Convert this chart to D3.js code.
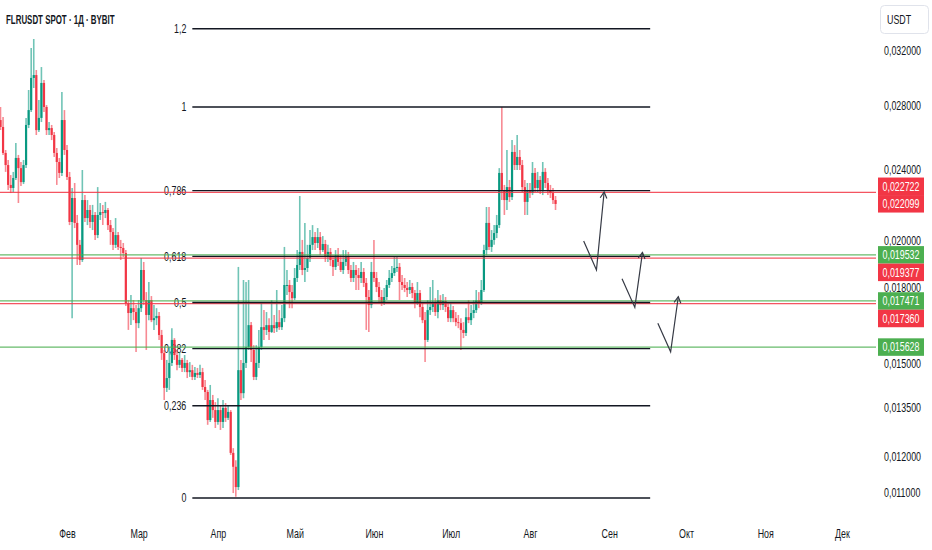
<!DOCTYPE html>
<meta charset="utf-8" />
<title>FLRUSDT SPOT 1D</title>
<script src="https://d3js.org/d3.v7.min.js"></script>
<style>
  body { margin: 0; background: #fff; }
  svg text { font-family: "Liberation Sans", Arial, sans-serif; fill: #131722; }
</style>
<body>
<svg id="chart" width="932" height="550"></svg>
<script>
  // ---- data (daily candles, 2025-01-06 .. 2025-08-11) ----
  var firstOpen = 0.02706;
  var closes = [
    0.02661,0.02499,0.02427,0.02313,0.02296,0.02352,0.02469,0.02409,0.02329,0.02427,
    0.02674,0.02772,0.02996,0.03017,0.02641,0.02720,0.02960,0.02793,0.02641,0.02654,
    0.02610,0.02499,0.02445,0.02381,0.02706,0.02517,0.02358,0.02115,0.02241,0.02110,
    0.02001,0.01929,0.02230,0.02135,0.02177,0.02115,0.02151,0.02049,0.02151,0.02166,
    0.02161,0.02177,0.02099,0.02064,0.02001,0.02049,0.01991,0.01986,0.01962,0.01738,
    0.01697,0.01717,0.01701,0.01656,0.01717,0.01883,0.01751,0.01689,0.01751,0.01668,
    0.01676,0.01685,0.01609,0.01540,0.01416,0.01450,0.01504,0.01590,0.01533,0.01497,
    0.01515,0.01486,0.01504,0.01471,0.01478,0.01454,0.01468,0.01461,0.01471,0.01419,
    0.01402,0.01310,0.01375,0.01342,0.01304,0.01342,0.01304,0.01349,0.01317,0.01336,
    0.01210,0.01170,0.01114,0.01478,0.01398,0.01504,0.01563,0.01648,0.01552,0.01454,
    0.01504,0.01563,0.01640,0.01629,0.01648,0.01621,0.01648,0.01636,0.01660,0.01640,
    0.01676,0.01816,0.01816,0.01785,0.01759,0.01847,0.01906,0.01967,0.01883,0.01892,
    0.01939,0.02001,0.02039,0.02010,0.02039,0.01976,0.02005,0.01943,0.01967,0.01929,
    0.01897,0.01952,0.01920,0.01883,0.01920,0.01948,0.01883,0.01847,0.01883,0.01860,
    0.01847,0.01874,0.01825,0.01764,0.01730,0.01874,0.01847,0.01807,0.01764,0.01742,
    0.01764,0.01816,0.01847,0.01869,0.01892,0.01897,0.01829,0.01816,0.01803,0.01794,
    0.01807,0.01781,0.01738,0.01781,0.01722,0.01668,0.01590,0.01709,0.01722,0.01738,
    0.01701,0.01751,0.01730,0.01747,0.01722,0.01676,0.01709,0.01676,0.01660,0.01656,
    0.01629,0.01617,0.01680,0.01668,0.01697,0.01709,0.01751,0.01738,0.01794,0.01976,
    0.02110,0.01991,0.02025,0.02059,0.02099,0.02381,0.02285,0.02230,0.02301,0.02246,
    0.02505,0.02427,0.02475,0.02427,0.02301,0.02220,0.02285,0.02268,0.02381,0.02296,
    0.02341,0.02285,0.02387,0.02324,0.02285,0.02268,0.02230,0.02209
  ];
  var highs = [
    0.02793,0.02726,0.02517,0.02457,0.02369,0.02387,0.02560,0.02487,0.02445,0.02457,
    0.02720,0.02910,0.03221,0.03292,0.03054,0.02840,0.03076,0.02981,0.02806,0.02693,
    0.02674,0.02629,0.02529,0.02469,0.02896,0.02772,0.02547,0.02387,0.02296,0.02324,
    0.02151,0.02025,0.02398,0.02257,0.02230,0.02204,0.02204,0.02166,0.02301,0.02214,
    0.02204,0.02220,0.02188,0.02125,0.02084,0.02135,0.02064,0.02025,0.02010,0.01976,
    0.01751,0.01772,0.01751,0.01730,0.01751,0.01939,0.01920,0.01785,0.01829,0.01768,
    0.01730,0.01717,0.01701,0.01629,0.01552,0.01515,0.01563,0.01636,0.01597,0.01552,
    0.01544,0.01522,0.01533,0.01515,0.01507,0.01497,0.01489,0.01486,0.01497,0.01486,
    0.01443,0.01409,0.01426,0.01392,0.01368,0.01381,0.01358,0.01375,0.01365,0.01358,
    0.01342,0.01224,0.01189,0.01897,0.01515,0.01838,0.01829,0.01838,0.01660,0.01570,
    0.01570,0.01629,0.01738,0.01709,0.01701,0.01676,0.01751,0.01689,0.01794,0.01709,
    0.01730,0.01991,0.01883,0.01838,0.01816,0.01892,0.01976,0.02252,0.02025,0.02110,
    0.02001,0.02074,0.02099,0.02064,0.02084,0.02064,0.02044,0.02025,0.02001,0.01986,
    0.01952,0.01976,0.01986,0.01952,0.01976,0.01976,0.01967,0.01906,0.01920,0.01906,
    0.01892,0.01920,0.01892,0.01847,0.01794,0.01920,0.02025,0.01874,0.01829,0.01794,
    0.01803,0.01838,0.01883,0.01901,0.01943,0.01948,0.01915,0.01860,0.01847,0.01829,
    0.01838,0.01825,0.01794,0.01829,0.01794,0.01738,0.01701,0.01751,0.01807,0.01838,
    0.01759,0.01794,0.01772,0.01777,0.01764,0.01738,0.01742,0.01726,0.01701,0.01689,
    0.01676,0.01660,0.01717,0.01751,0.01730,0.01751,0.01794,0.01785,0.01838,0.02001,
    0.02193,0.02193,0.02074,0.02099,0.02151,0.02409,0.02793,0.02313,0.02517,0.02341,
    0.02578,0.02547,0.02610,0.02517,0.02457,0.02341,0.02324,0.02324,0.02445,0.02409,
    0.02387,0.02364,0.02445,0.02409,0.02352,0.02313,0.02296,0.02252
  ];
  var lows = [
    0.02641,0.02487,0.02387,0.02285,0.02268,0.02274,0.02341,0.02214,0.02307,0.02318,
    0.02409,0.02654,0.02759,0.02924,0.02610,0.02629,0.02693,0.02759,0.02610,0.02610,
    0.02578,0.02475,0.02313,0.02352,0.02364,0.02487,0.02341,0.02099,0.01676,0.02084,
    0.01906,0.01906,0.01920,0.02115,0.02099,0.02084,0.02074,0.02025,0.02034,0.02125,
    0.02099,0.02135,0.02074,0.02001,0.01976,0.01986,0.01976,0.01929,0.01943,0.01726,
    0.01629,0.01648,0.01668,0.01544,0.01636,0.01701,0.01730,0.01552,0.01668,0.01660,
    0.01629,0.01648,0.01590,0.01515,0.01375,0.01402,0.01409,0.01493,0.01515,0.01478,
    0.01486,0.01471,0.01471,0.01450,0.01454,0.01443,0.01443,0.01450,0.01450,0.01409,
    0.01375,0.01295,0.01304,0.01317,0.01285,0.01295,0.01279,0.01285,0.01304,0.01310,
    0.01204,0.01098,0.01088,0.01106,0.01375,0.01381,0.01486,0.01552,0.01507,0.01443,
    0.01443,0.01486,0.01552,0.01590,0.01609,0.01590,0.01617,0.01617,0.01621,0.01629,
    0.01629,0.01660,0.01772,0.01717,0.01717,0.01751,0.01829,0.01883,0.01860,0.01829,
    0.01874,0.01920,0.01976,0.01976,0.01986,0.01952,0.01967,0.01920,0.01920,0.01901,
    0.01856,0.01883,0.01901,0.01874,0.01865,0.01901,0.01865,0.01829,0.01829,0.01794,
    0.01794,0.01825,0.01807,0.01629,0.01621,0.01717,0.01829,0.01785,0.01742,0.01726,
    0.01730,0.01751,0.01803,0.01829,0.01856,0.01874,0.01751,0.01794,0.01785,0.01764,
    0.01777,0.01759,0.01717,0.01730,0.01680,0.01656,0.01507,0.01582,0.01689,0.01701,
    0.01685,0.01676,0.01709,0.01709,0.01701,0.01660,0.01660,0.01660,0.01644,0.01636,
    0.01552,0.01597,0.01605,0.01656,0.01648,0.01676,0.01697,0.01717,0.01730,0.01785,
    0.01952,0.01976,0.01967,0.02001,0.02034,0.02084,0.02230,0.02151,0.02177,0.02220,
    0.02230,0.02398,0.02398,0.02398,0.02274,0.02151,0.02151,0.02241,0.02257,0.02274,
    0.02274,0.02263,0.02257,0.02296,0.02257,0.02241,0.02209,0.02177
  ];

  // price axis ticks and month labels
  var priceTicks  = [0.032, 0.028, 0.024, 0.020, 0.018, 0.015, 0.0135, 0.012, 0.011];
  var monthLabels = ["Фев","Мар","Апр","Май","Июн","Июл","Авг","Сен","Окт","Ноя","Дек"];

  // fibonacci retracement (log scale)
  var fibLevels = [0, 0.236, 0.382, 0.5, 0.618, 0.786, 1, 1.2];
  var fibLow    = 0.01085;
  var fibHigh   = 0.02793;
  var fibFrom   = "2025-03-22";
  var fibTo     = "2025-09-17";

  // horizontal price lines and their axis labels
  var hLinePrices = [0.022722, 0.019532, 0.019377, 0.017471, 0.017360, 0.015628];
  var hLineColors = ["red", "green", "red", "green", "red", "green"];
  var lastPrice   = 0.022099;

  // hand-drawn scenario arrows [date, price]
  var arrows = [
    [["2025-08-22", 0.02020], ["2025-08-27", 0.01883], ["2025-08-30", 0.02274]],
    [["2025-09-06", 0.01844], ["2025-09-11", 0.01720], ["2025-09-14", 0.01965]],
    [["2025-09-20", 0.01655], ["2025-09-25", 0.01545], ["2025-09-28", 0.01765]]
  ];

  var title = "FLRUSDT SPOT · 1Д · BYBIT";

  // ---- setup ----
  var RED = "#f23645", TEAL = "#089981", GREEN = "#4caf50";
  var colorOf = { red: RED, green: GREEN };
  var paneRight = 876;
  var K = 0.74; // horizontal squeeze for the condensed look of the labels
  var svg = d3.select("#chart");

  function condense(sel, k) {
    sel.each(function() {
      var t = d3.select(this);
      var xv = +t.attr("x") || 0;
      t.attr("x", xv / k).attr("transform", "scale(" + k + ",1)");
    });
  }

  var x = d3.scaleUtc()
    .domain([new Date(Date.UTC(2025, 1, 1)), new Date(Date.UTC(2025, 11, 1))])
    .range([67, 842]);
  var y = d3.scaleLog()
    .domain([0.032, 0.011])
    .range([50.7, 492.3]);
  var parse = d3.utcParse("%Y-%m-%d");

  var dates = d3.utcDay.range(new Date(Date.UTC(2025, 0, 6)), new Date(Date.UTC(2025, 7, 12)));
  var candles = dates.map(function(d, i) {
    return { date: d, open: i == 0 ? firstOpen : closes[i - 1],
             close: closes[i], high: highs[i], low: lows[i] };
  });

  var logLow = Math.log(fibLow), logHigh = Math.log(fibHigh);
  function fibPrice(level) { return Math.exp(logLow + level * (logHigh - logLow)); }

  var pane = svg.append("g");

  // fib labels (under the candles)
  pane.selectAll(".fibLabel").data(fibLevels).enter().append("text")
    .attr("x", x(parse(fibFrom)) - 6)
    .attr("y", function(d) { return y(fibPrice(d)); })
    .attr("dy", "0.35em")
    .attr("text-anchor", "end")
    .attr("font-size", 12)
    .text(function(d) { return String(d).replace(".", ","); })
    .call(condense, K);

  // candles
  var cg = pane.selectAll(".candle").data(candles).enter().append("g");
  cg.append("line")
    .attr("x1", function(d) { return x(d.date); })
    .attr("x2", function(d) { return x(d.date); })
    .attr("y1", function(d) { return y(Math.max(d.high, d.open, d.close)); })
    .attr("y2", function(d) { return y(Math.min(d.low, d.open, d.close)); })
    .attr("stroke", function(d) { return d.close >= d.open ? TEAL : RED; })
    .attr("stroke-opacity", 0.58)
    .attr("stroke-width", 1.6);
  cg.append("rect")
    .attr("x", function(d) { return x(d.date) - 1.1; })
    .attr("width", 2.2)
    .attr("y", function(d) { return y(Math.max(d.open, d.close)); })
    .attr("height", function(d) { return Math.max(1, y(Math.min(d.open, d.close)) - y(Math.max(d.open, d.close))); })
    .attr("fill", function(d) { return d.close >= d.open ? TEAL : RED; });

  // horizontal price lines across the pane
  pane.selectAll(".hline").data(hLinePrices).enter().append("line")
    .attr("x1", 0).attr("x2", paneRight)
    .attr("y1", function(d) { return y(d); })
    .attr("y2", function(d) { return y(d); })
    .attr("stroke", function(d, i) { return colorOf[hLineColors[i]]; })
    .attr("stroke-width", 1.3)
    .attr("stroke-opacity", 0.85);

  // fib lines
  pane.selectAll(".fibLine").data(fibLevels).enter().append("line")
    .attr("x1", x(parse(fibFrom))).attr("x2", x(parse(fibTo)))
    .attr("y1", function(d) { return y(fibPrice(d)); })
    .attr("y2", function(d) { return y(fibPrice(d)); })
    .attr("stroke", "#131722")
    .attr("stroke-width", 1.4);

  // arrows
  arrows.forEach(function(a) {
    var pts = a.map(function(p) { return [x(parse(p[0])), y(p[1])]; });
    pane.append("path")
      .attr("d", d3.line()(pts))
      .attr("fill", "none")
      .attr("stroke", "#363a45")
      .attr("stroke-width", 1.2);
    var tip = pts[2], from = pts[1];
    var ang = Math.atan2(tip[1] - from[1], tip[0] - from[0]);
    var head = [ang + Math.PI - 0.5, ang + Math.PI + 0.5].map(function(t) {
      return [tip[0] + 7 * Math.cos(t), tip[1] + 7 * Math.sin(t)];
    });
    pane.append("path")
      .attr("d", d3.line()([head[0], tip, head[1]]))
      .attr("fill", "none")
      .attr("stroke", "#363a45")
      .attr("stroke-width", 1.2);
  });

  // price label boxes on the axis, last price stays in place, others stack away
  var fmt = function(v) { return d3.format(".6f")(v).replace(".", ","); };
  var boxH = 17.5;
  var boxes = hLinePrices.map(function(p, i) { return { price: p, color: colorOf[hLineColors[i]], cy: y(p) }; });
  var lastBox = { price: lastPrice, color: RED, cy: y(lastPrice) };
  boxes.sort(function(a, b) { return a.cy - b.cy; });
  var prevBottom = -Infinity;
  boxes.forEach(function(b) {
    if (b.cy - boxH / 2 < prevBottom) b.cy = prevBottom + boxH / 2;
    if (Math.abs(b.cy - lastBox.cy) < boxH) {
      b.cy = b.cy < lastBox.cy ? lastBox.cy - boxH : lastBox.cy + boxH;
    }
    prevBottom = Math.max(b.cy + boxH / 2, b.cy < lastBox.cy ? lastBox.cy + boxH / 2 : 0);
  });
  boxes.push(lastBox);

  // right price axis; a tick label sitting on a box slides up above it
  var yAxis = svg.append("g")
    .attr("transform", "translate(" + (paneRight + 2) + ",0)")
    .call(d3.axisRight(y).tickValues(priceTicks).tickFormat(fmt).tickSize(0).tickPadding(6));
  yAxis.select(".domain").remove();
  yAxis.selectAll(".tick").each(function(d) {
    var ty = y(d), shift = 0;
    boxes.forEach(function(b) {
      var top = b.cy - boxH / 2;
      if (ty > top - 6 && ty < b.cy) shift = Math.min(shift, top - 5 - ty);
    });
    d3.select(this).select("text").attr("y", shift);
  });
  yAxis.selectAll("text").attr("font-size", 12).attr("fill", "#131722")
    .attr("font-family", null).call(condense, K);

  // bottom time axis
  var monthDates = d3.utcMonth.range(new Date(Date.UTC(2025, 1, 1)), new Date(Date.UTC(2025, 11, 2)));
  var xAxis = svg.append("g")
    .attr("transform", "translate(0,526)")
    .call(d3.axisBottom(x).tickValues(monthDates)
      .tickFormat(function(d, i) { return monthLabels[i]; }).tickSize(0).tickPadding(3));
  xAxis.select(".domain").remove();
  xAxis.selectAll("text").attr("font-size", 12).attr("fill", "#131722")
    .attr("font-family", null).call(condense, K);

  var bg = svg.selectAll(".pbox").data(boxes).enter().append("g")
    .attr("transform", function(d) { return "translate(878," + (d.cy - boxH / 2) + ")"; });
  bg.append("rect")
    .attr("width", 46).attr("height", boxH)
    .attr("fill", function(d) { return d.color; });
  bg.append("text")
    .attr("x", 23).attr("y", boxH / 2).attr("dy", "0.36em")
    .attr("text-anchor", "middle")
    .attr("font-size", 12)
    .style("fill", "#fff")
    .text(function(d) { return fmt(d.price); })
    .call(condense, K);

  // currency button
  svg.append("rect")
    .attr("x", 880.5).attr("y", 5.5).attr("width", 48).attr("height", 28).attr("rx", 4)
    .attr("fill", "#fff").attr("stroke", "#e0e3eb");
  svg.append("text")
    .attr("x", 887).attr("y", 19.5).attr("dy", "0.35em")
    .attr("font-size", 12).text("USDT")
    .call(condense, K);

  // title
  svg.append("text")
    .attr("x", 6).attr("y", 19).attr("dy", "0.35em")
    .attr("font-size", 13).attr("font-weight", "bold")
    .text(title)
    .call(condense, 0.61);
</script>
</body>
